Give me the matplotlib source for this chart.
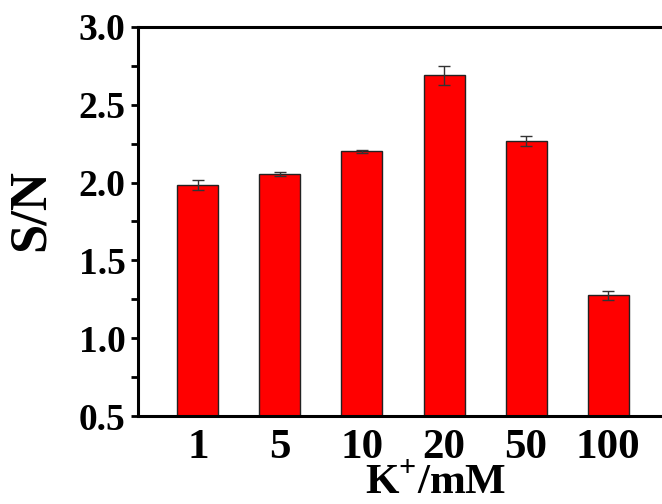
import matplotlib
matplotlib.use("Agg")
import matplotlib.pyplot as plt
from matplotlib.ticker import MultipleLocator

# data
conc_labels = ["1", "5", "10", "20", "50", "100"]
sn_values = [1.985, 2.055, 2.20, 2.69, 2.27, 1.275]
sn_errors = [0.030, 0.015, 0.012, 0.060, 0.032, 0.028]

plt.rcParams["font.family"] = ["Liberation Serif", "DejaVu Serif"]
plt.rcParams["font.weight"] = "bold"
plt.rcParams["mathtext.fontset"] = "custom"
plt.rcParams["mathtext.rm"] = "Liberation Serif:bold"
plt.rcParams["mathtext.bf"] = "Liberation Serif:bold"

fig = plt.figure(figsize=(6.62, 5.04), dpi=100)
ax = fig.add_axes([138 / 662, 88 / 504, 530 / 662, 389 / 504])

pos = list(range(1, len(conc_labels) + 1))
ax.bar(pos, sn_values, width=0.5, color="#ff0000", edgecolor="#222222",
       linewidth=1.0, zorder=2)
ax.errorbar(pos, sn_values, yerr=sn_errors, fmt="none", ecolor="#333333",
            elinewidth=1.0, capsize=4, capthick=1.0, zorder=3)

ax.set_xlim(0.27, 6.73)
ax.set_ylim(0.5, 3.0)
ax.yaxis.set_major_locator(MultipleLocator(0.5))
ax.yaxis.set_minor_locator(MultipleLocator(0.25))
ax.set_xticks(pos)
ax.set_xticklabels(conc_labels)

for side in ["left", "bottom", "top"]:
    ax.spines[side].set_linewidth(2.2)
ax.spines["right"].set_visible(False)

ax.tick_params(axis="y", which="major", direction="out", length=5, width=2,
               pad=4, labelsize=27)
ax.tick_params(axis="y", which="minor", direction="out", length=5, width=2)
ax.tick_params(axis="x", which="both", length=0, pad=9, labelsize=31)
for lbl in ax.get_xticklabels() + ax.get_yticklabels():
    lbl.set_fontweight("bold")

ax.set_ylabel("S/N", fontsize=38, fontweight="bold")
ax.yaxis.set_label_coords(-0.158, 0.53)
ax.set_xlabel(r"K$^{+}$/mM", fontsize=31, fontweight="bold")
ax.xaxis.set_label_coords(0.562, -0.125)

fig.savefig("out.png", dpi=100)
